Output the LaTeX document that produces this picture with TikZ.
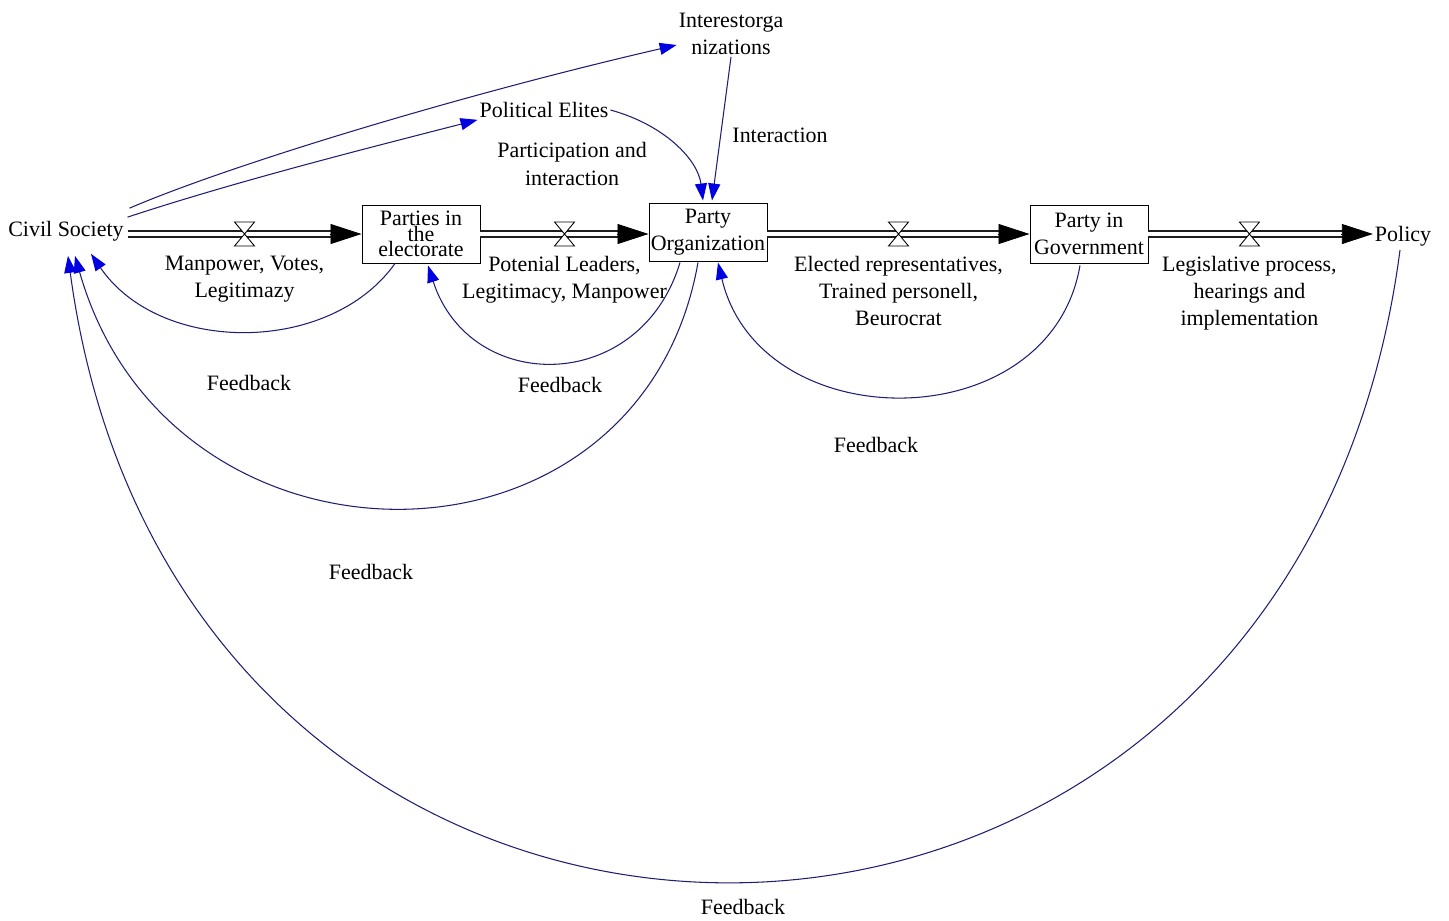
\documentclass[tikz,border=0pt]{standalone}
\usepackage{fontspec}
\setmainfont{Liberation Serif}
\newfontfamily\diagfont{Liberation Serif}
\usetikzlibrary{arrows.meta,positioning,calc}
\definecolor{navy}{RGB}{30,30,115}
\definecolor{tipblue}{RGB}{0,0,225}
\definecolor{pipegray}{RGB}{30,30,30}

\begin{document}
\begin{tikzpicture}[
    x=0.02cm,y=-0.02cm,
    txt/.style={font=\diagfont\fontsize{12.5}{15.5}\selectfont,align=center,inner sep=1pt},
    stock/.style={txt,draw=black,line width=0.55pt,minimum width=2.36cm,
                  minimum height=1.16cm,fill=white},
    pipe/.style={draw=pipegray,line width=1.05pt,double=white,double distance=1.9pt,
                 shorten >=5mm},
    flowtip/.style={-{Triangle[length=6.2mm,width=4mm]},line width=0.5pt,draw=black},
    valve/.style={draw=black,line width=0.5pt,fill=white},
    link/.style={draw=navy,line width=0.6pt,
                 -{Triangle[length=3.4mm,width=2.4mm,color=tipblue]}},
    node distance=4mm
  ]
  \useasboundingbox (0,0) rectangle (1449,920);

  % stocks and clouds
  \node[txt,inner sep=2pt] (civil) at (66,231) {Civil Society};
  \node[stock,font={\diagfont\fontsize{12.5}{8.8}\selectfont\lineskiplimit=-20pt}] (parties)
    at (421,234) {Parties in\\the\\electorate};
  \node[stock] (org) at (708,232) {Party\\Organization};
  \node[stock] (gov) at (1089,234) {Party in\\Government};
  \node[txt] (policy) at (1403,236) {Policy};
  \node[txt] (intorg) at (731,34) {Interestorga\\nizations};
  \node[txt] (elites) at (544,110) {Political Elites};

  % flows
  \draw[pipe] (civil.east |- parties.west) -- (parties.west);
  \draw[flowtip] ($(parties.west)+(-32,0)$) -- (parties.west);
  \draw[pipe] (parties.east) -- (parties.east -| org.west);
  \draw[flowtip] ($(parties.east -| org.west)+(-32,0)$) -- (parties.east -| org.west);
  \draw[pipe] (org.east |- gov.west) -- (gov.west);
  \draw[flowtip] ($(gov.west)+(-32,0)$) -- (gov.west);
  \draw[pipe] (gov.east) -- (gov.east -| policy.west);
  \draw[flowtip] ($(gov.east -| policy.west)+(-32,0)$) -- (gov.east -| policy.west);

  \coordinate (v1) at ($(civil.east |- parties.west)!0.5!(parties.west)$);
  \coordinate (v2) at ($(parties.east)!0.5!(parties.east -| org.west)$);
  \coordinate (v3) at ($(org.east |- gov.west)!0.5!(gov.west)$);
  \coordinate (v4) at ($(gov.east)!0.45!(gov.east -| policy.west)$);
  \foreach \v in {v1,v2,v3,v4}
    \draw[valve] ($(\v)+(-10,-12)$) -- ++(20,0) -- ++(-20,24) -- ++(20,0) -- cycle;

  \node[txt,below=of v1] (lab1) {Manpower, Votes,\\Legitimazy};
  \node[txt,below=of v2] (lab2) {Potenial Leaders,\\Legitimacy, Manpower};
  \node[txt,below=of v3] (lab3) {Elected representatives,\\Trained personell,\\Beurocrat};
  \node[txt,below=of v4] (lab4) {Legislative process,\\hearings and\\implementation};

  % links
  \draw[link] ([shift={(2,-9)}]civil.north east) .. controls (230,165) and (460,95) ..
    ([shift={(0,11)}]intorg.west);
  \draw[link] (civil.north east) .. controls (240,180) and (380,145) .. (elites.south west);
  \draw[link] (elites.east) .. controls (665,125) and (698,160) .. ([shift={(-5,-2)}]org.north);
  \draw[link] (intorg.south) -- ([shift={(4,-2)}]org.north);
  \node[txt] (part) at (572,164) {Participation and\\interaction};
  \node[txt] (inter) at (780,135) {Interaction};

  % feedback loops
  \draw[link] ([shift={(-26,0)}]parties.south) .. controls (330,355) and (160,355) ..
    ([shift={(25,9)}]civil.south);
  \draw[link] ([shift={(-28,1)}]org.south) .. controls (640,395) and (470,395) ..
    ([shift={(7,2)}]parties.south);
  \draw[link] ([shift={(-10,1)}]org.south) .. controls (640,590) and (170,590) ..
    ([shift={(9,11)}]civil.south);
  \draw[link] ([shift={(-9,2)}]gov.south) .. controls (1050,440) and (760,440) ..
    ([shift={(10,1)}]org.south);
  \draw[link] ([shift={(-3,2)}]policy.south) .. controls (1290,1090) and (180,1090) ..
    ([shift={(2,11)}]civil.south);

  \node[txt] (fb1) at (249,383) {Feedback};
  \node[txt] (fb2) at (560,385) {Feedback};
  \node[txt] (fb3) at (876,445) {Feedback};
  \node[txt] (fb4) at (371,572) {Feedback};
  \node[txt] (fb5) at (743,907) {Feedback};
\end{tikzpicture}
\end{document}
